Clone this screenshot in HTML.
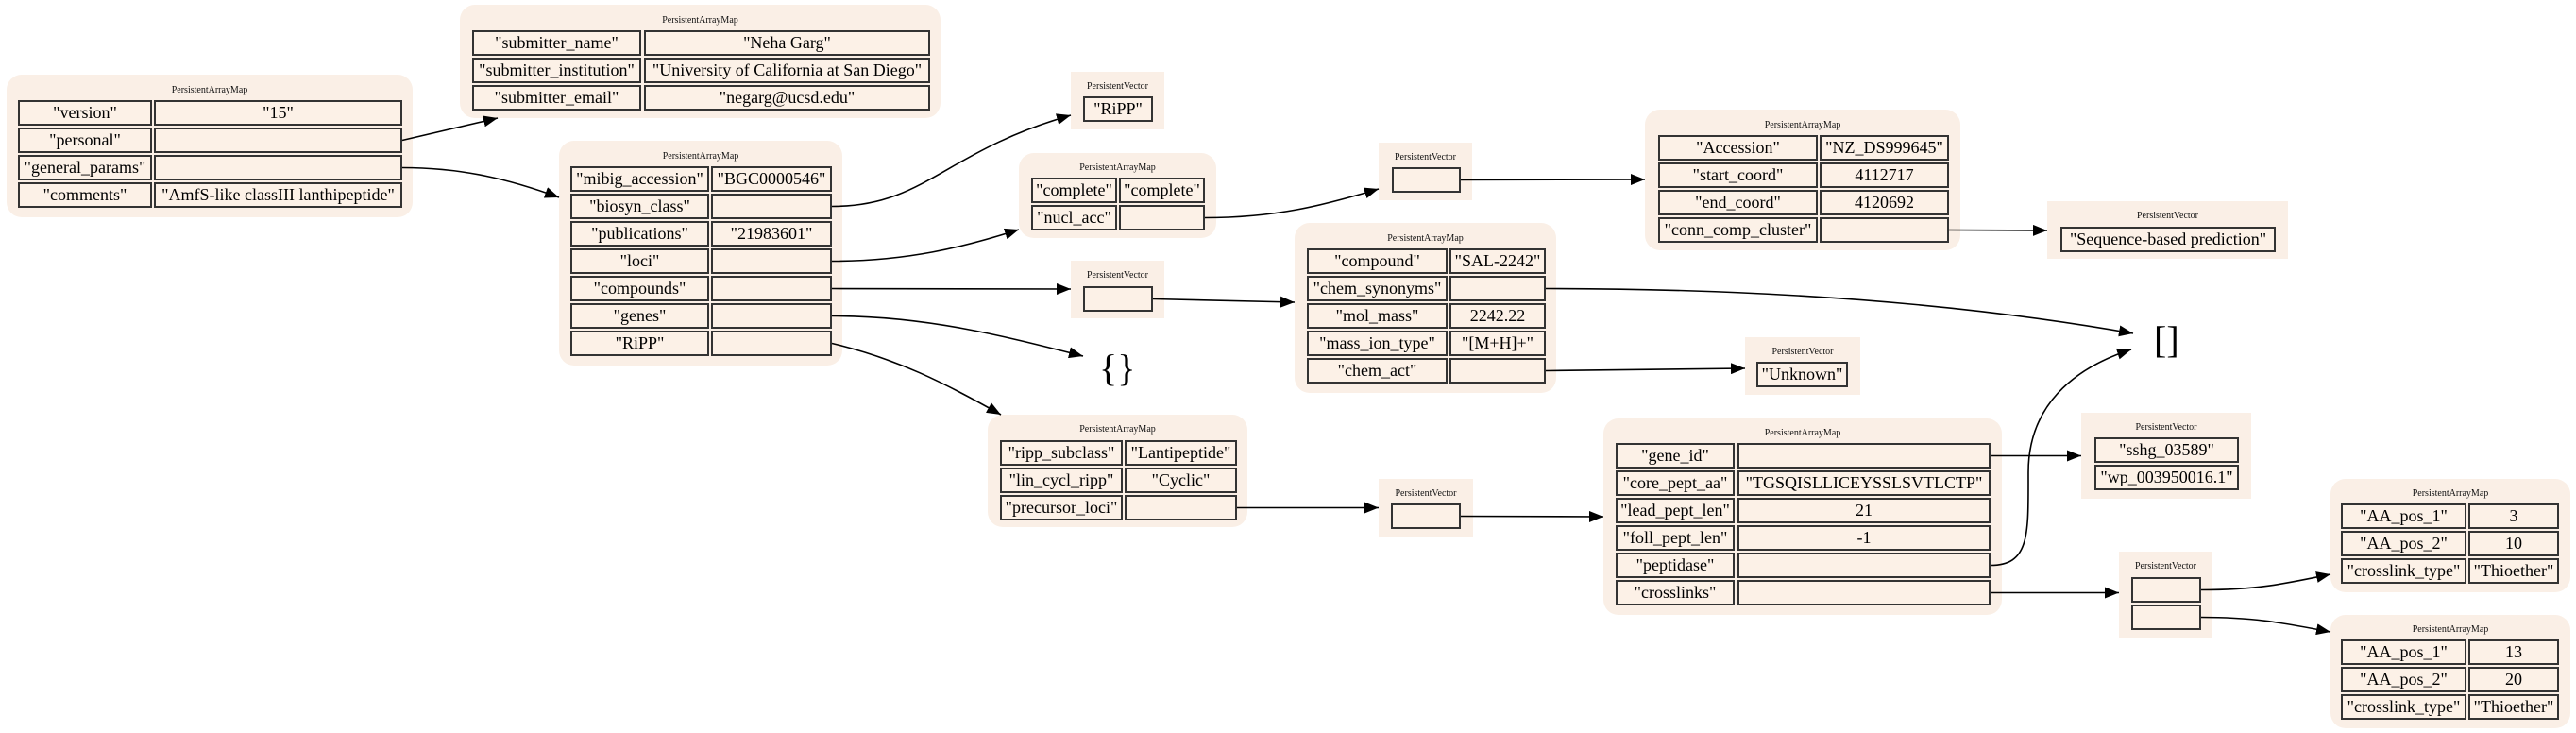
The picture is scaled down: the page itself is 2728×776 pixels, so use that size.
<!DOCTYPE html>
<html><head><meta charset="utf-8"><style>
body{margin:0;width:2728px;height:776px;background:#fff;position:relative;overflow:hidden;font-family:"Liberation Serif",serif}
.n{position:absolute;background:#faefe6;border-radius:16px}
.v{position:absolute;background:#faefe6}
.t{position:absolute;left:0;right:0;text-align:center;font-size:10px;line-height:12px;color:#111}
.c{position:absolute;box-sizing:border-box;border:2px solid #333;background:#fcf1e7;height:27px;font-size:18px;line-height:23px;text-align:center;white-space:nowrap;overflow:visible;color:#000}
.g{position:absolute;font-size:40px;line-height:40px;color:#000}
svg{position:absolute;left:0;top:0}
</style></head><body>

<!-- N1 -->
<div class="n" style="left:7px;top:79px;width:430px;height:151px"><div class="t" style="top:11px">PersistentArrayMap</div></div>
<div class="c" style="left:19px;top:106px;width:142px">"version"</div><div class="c" style="left:163px;top:106px;width:263px">"15"</div>
<div class="c" style="left:19px;top:135px;width:142px">"personal"</div><div class="c" style="left:163px;top:135px;width:263px"></div>
<div class="c" style="left:19px;top:164px;width:142px">"general_params"</div><div class="c" style="left:163px;top:164px;width:263px"></div>
<div class="c" style="left:19px;top:193px;width:142px">"comments"</div><div class="c" style="left:163px;top:193px;width:263px">"AmfS-like classIII lanthipeptide"</div>

<!-- N2 -->
<div class="n" style="left:487px;top:5px;width:509px;height:120px"><div class="t" style="top:11px">PersistentArrayMap</div></div>
<div class="c" style="left:500px;top:32px;width:179px">"submitter_name"</div><div class="c" style="left:682px;top:32px;width:303px">"Neha Garg"</div>
<div class="c" style="left:500px;top:61px;width:179px">"submitter_institution"</div><div class="c" style="left:682px;top:61px;width:303px">"University of California at San Diego"</div>
<div class="c" style="left:500px;top:90px;width:179px">"submitter_email"</div><div class="c" style="left:682px;top:90px;width:303px">"negarg@ucsd.edu"</div>

<!-- N3 -->
<div class="n" style="left:592px;top:149px;width:300px;height:238px"><div class="t" style="top:11px">PersistentArrayMap</div></div>
<div class="c" style="left:604px;top:176px;width:147px">"mibig_accession"</div><div class="c" style="left:753px;top:176px;width:128px">"BGC0000546"</div>
<div class="c" style="left:604px;top:205px;width:147px">"biosyn_class"</div><div class="c" style="left:753px;top:205px;width:128px"></div>
<div class="c" style="left:604px;top:234px;width:147px">"publications"</div><div class="c" style="left:753px;top:234px;width:128px">"21983601"</div>
<div class="c" style="left:604px;top:263px;width:147px">"loci"</div><div class="c" style="left:753px;top:263px;width:128px"></div>
<div class="c" style="left:604px;top:292px;width:147px">"compounds"</div><div class="c" style="left:753px;top:292px;width:128px"></div>
<div class="c" style="left:604px;top:321px;width:147px">"genes"</div><div class="c" style="left:753px;top:321px;width:128px"></div>
<div class="c" style="left:604px;top:350px;width:147px">"RiPP"</div><div class="c" style="left:753px;top:350px;width:128px"></div>

<!-- PV RiPP -->
<div class="v" style="left:1134px;top:76px;width:99px;height:61px"><div class="t" style="top:10px">PersistentVector</div></div>
<div class="c" style="left:1147px;top:102px;width:74px">"RiPP"</div>

<!-- complete map -->
<div class="n" style="left:1079px;top:162px;width:209px;height:90px"><div class="t" style="top:10px">PersistentArrayMap</div></div>
<div class="c" style="left:1092px;top:188px;width:91px">"complete"</div><div class="c" style="left:1185px;top:188px;width:91px">"complete"</div>
<div class="c" style="left:1092px;top:217px;width:91px">"nucl_acc"</div><div class="c" style="left:1185px;top:217px;width:91px"></div>

<!-- PV loci -->
<div class="v" style="left:1460px;top:151px;width:99px;height:61px"><div class="t" style="top:10px">PersistentVector</div></div>
<div class="c" style="left:1474px;top:177px;width:73px"></div>

<!-- PV compounds -->
<div class="v" style="left:1134px;top:276px;width:99px;height:61px"><div class="t" style="top:10px">PersistentVector</div></div>
<div class="c" style="left:1147px;top:303px;width:74px"></div>

<div class="g" style="left:1164px;top:370px">{}</div>

<!-- compound map -->
<div class="n" style="left:1371px;top:236px;width:277px;height:180px"><div class="t" style="top:11px">PersistentArrayMap</div></div>
<div class="c" style="left:1384px;top:263px;width:149px">"compound"</div><div class="c" style="left:1535px;top:263px;width:102px">"SAL-2242"</div>
<div class="c" style="left:1384px;top:292px;width:149px">"chem_synonyms"</div><div class="c" style="left:1535px;top:292px;width:102px"></div>
<div class="c" style="left:1384px;top:321px;width:149px">"mol_mass"</div><div class="c" style="left:1535px;top:321px;width:102px">2242.22</div>
<div class="c" style="left:1384px;top:350px;width:149px">"mass_ion_type"</div><div class="c" style="left:1535px;top:350px;width:102px">"[M+H]+"</div>
<div class="c" style="left:1384px;top:379px;width:149px">"chem_act"</div><div class="c" style="left:1535px;top:379px;width:102px"></div>

<!-- Accession map -->
<div class="n" style="left:1742px;top:116px;width:334px;height:149px"><div class="t" style="top:11px">PersistentArrayMap</div></div>
<div class="c" style="left:1756px;top:143px;width:169px">"Accession"</div><div class="c" style="left:1927px;top:143px;width:137px">"NZ_DS999645"</div>
<div class="c" style="left:1756px;top:172px;width:169px">"start_coord"</div><div class="c" style="left:1927px;top:172px;width:137px">4112717</div>
<div class="c" style="left:1756px;top:201px;width:169px">"end_coord"</div><div class="c" style="left:1927px;top:201px;width:137px">4120692</div>
<div class="c" style="left:1756px;top:230px;width:169px">"conn_comp_cluster"</div><div class="c" style="left:1927px;top:230px;width:137px"></div>

<!-- PV Sequence -->
<div class="v" style="left:2168px;top:213px;width:255px;height:61px"><div class="t" style="top:10px">PersistentVector</div></div>
<div class="c" style="left:2182px;top:240px;width:228px">"Sequence-based prediction"</div>

<div class="g" style="left:2281px;top:340px">[]</div>

<!-- PV Unknown -->
<div class="v" style="left:1848px;top:357px;width:122px;height:61px"><div class="t" style="top:10px">PersistentVector</div></div>
<div class="c" style="left:1860px;top:383px;width:97px">"Unknown"</div>

<!-- ripp map -->
<div class="n" style="left:1046px;top:439px;width:275px;height:119px"><div class="t" style="top:10px">PersistentArrayMap</div></div>
<div class="c" style="left:1059px;top:466px;width:130px">"ripp_subclass"</div><div class="c" style="left:1191px;top:466px;width:119px">"Lantipeptide"</div>
<div class="c" style="left:1059px;top:495px;width:130px">"lin_cycl_ripp"</div><div class="c" style="left:1191px;top:495px;width:119px">"Cyclic"</div>
<div class="c" style="left:1059px;top:524px;width:130px">"precursor_loci"</div><div class="c" style="left:1191px;top:524px;width:119px"></div>

<!-- PV precursor -->
<div class="v" style="left:1460px;top:507px;width:100px;height:61px"><div class="t" style="top:10px">PersistentVector</div></div>
<div class="c" style="left:1473px;top:533px;width:74px"></div>

<!-- gene map -->
<div class="n" style="left:1698px;top:443px;width:422px;height:208px"><div class="t" style="top:10px">PersistentArrayMap</div></div>
<div class="c" style="left:1711px;top:469px;width:126px">"gene_id"</div><div class="c" style="left:1840px;top:469px;width:268px"></div>
<div class="c" style="left:1711px;top:498px;width:126px">"core_pept_aa"</div><div class="c" style="left:1840px;top:498px;width:268px">"TGSQISLLICEYSSLSVTLCTP"</div>
<div class="c" style="left:1711px;top:527px;width:126px">"lead_pept_len"</div><div class="c" style="left:1840px;top:527px;width:268px">21</div>
<div class="c" style="left:1711px;top:556px;width:126px">"foll_pept_len"</div><div class="c" style="left:1840px;top:556px;width:268px">-1</div>
<div class="c" style="left:1711px;top:585px;width:126px">"peptidase"</div><div class="c" style="left:1840px;top:585px;width:268px"></div>
<div class="c" style="left:1711px;top:614px;width:126px">"crosslinks"</div><div class="c" style="left:1840px;top:614px;width:268px"></div>

<!-- PV genes -->
<div class="v" style="left:2204px;top:437px;width:180px;height:91px"><div class="t" style="top:10px">PersistentVector</div></div>
<div class="c" style="left:2218px;top:463px;width:153px">"sshg_03589"</div>
<div class="c" style="left:2218px;top:492px;width:153px">"wp_003950016.1"</div>

<!-- PV crosslinks -->
<div class="v" style="left:2244px;top:584px;width:99px;height:91px"><div class="t" style="top:10px">PersistentVector</div></div>
<div class="c" style="left:2257px;top:611px;width:74px"></div>
<div class="c" style="left:2257px;top:640px;width:74px"></div>

<!-- AA1 -->
<div class="n" style="left:2468px;top:507px;width:254px;height:120px"><div class="t" style="top:10px">PersistentArrayMap</div></div>
<div class="c" style="left:2479px;top:533px;width:133px">"AA_pos_1"</div><div class="c" style="left:2614px;top:533px;width:96px">3</div>
<div class="c" style="left:2479px;top:562px;width:133px">"AA_pos_2"</div><div class="c" style="left:2614px;top:562px;width:96px">10</div>
<div class="c" style="left:2479px;top:591px;width:133px">"crosslink_type"</div><div class="c" style="left:2614px;top:591px;width:96px">"Thioether"</div>

<!-- AA2 -->
<div class="n" style="left:2468px;top:651px;width:254px;height:120px"><div class="t" style="top:10px">PersistentArrayMap</div></div>
<div class="c" style="left:2479px;top:677px;width:133px">"AA_pos_1"</div><div class="c" style="left:2614px;top:677px;width:96px">13</div>
<div class="c" style="left:2479px;top:706px;width:133px">"AA_pos_2"</div><div class="c" style="left:2614px;top:706px;width:96px">20</div>
<div class="c" style="left:2479px;top:735px;width:133px">"crosslink_type"</div><div class="c" style="left:2614px;top:735px;width:96px">"Thioether"</div>

<svg width="2728" height="776" viewBox="0 0 2728 776">
<defs><marker id="a" markerUnits="userSpaceOnUse" markerWidth="16" markerHeight="12" refX="15" refY="6" orient="auto"><path d="M0,0 L15,6 L0,12 z" fill="#000"/></marker></defs>
<g fill="none" stroke="#000" stroke-width="1.6" marker-end="url(#a)">
<path d="M426,148.5 L527,125"/>
<path d="M426,177.5 C490,177.5 540,190 592,209"/>
<path d="M881,218.5 C980,218.5 1000,160 1134,122"/>
<path d="M881,276.5 C960,276.5 1020,262 1079,243"/>
<path d="M881,305.5 L1134,306"/>
<path d="M881,334.5 C980,334.5 1060,355 1147,377"/>
<path d="M881,363.5 C950,380 1000,405 1060,439"/>
<path d="M1276,230.5 C1350,230.5 1400,218 1460,200"/>
<path d="M1547,190.5 L1742,190"/>
<path d="M2064,243.5 L2168,244"/>
<path d="M1221,316.5 L1371,320"/>
<path d="M1637,305.5 C1900,305.5 2100,325 2259,353"/>
<path d="M1637,392.5 L1848,390"/>
<path d="M1310,537.5 L1460,537.5"/>
<path d="M1547,546.5 L1698,547"/>
<path d="M2108,482.5 L2204,482.5"/>
<path d="M2108,598.5 C2150,598.5 2148,565 2148,500 C2148,430 2195,390 2257,370"/>
<path d="M2108,627.5 L2244,627.5"/>
<path d="M2331,624.5 C2390,624.5 2420,618 2468,608"/>
<path d="M2331,653.5 C2390,653.5 2420,660 2468,669"/>
</g></svg>
</body></html>
